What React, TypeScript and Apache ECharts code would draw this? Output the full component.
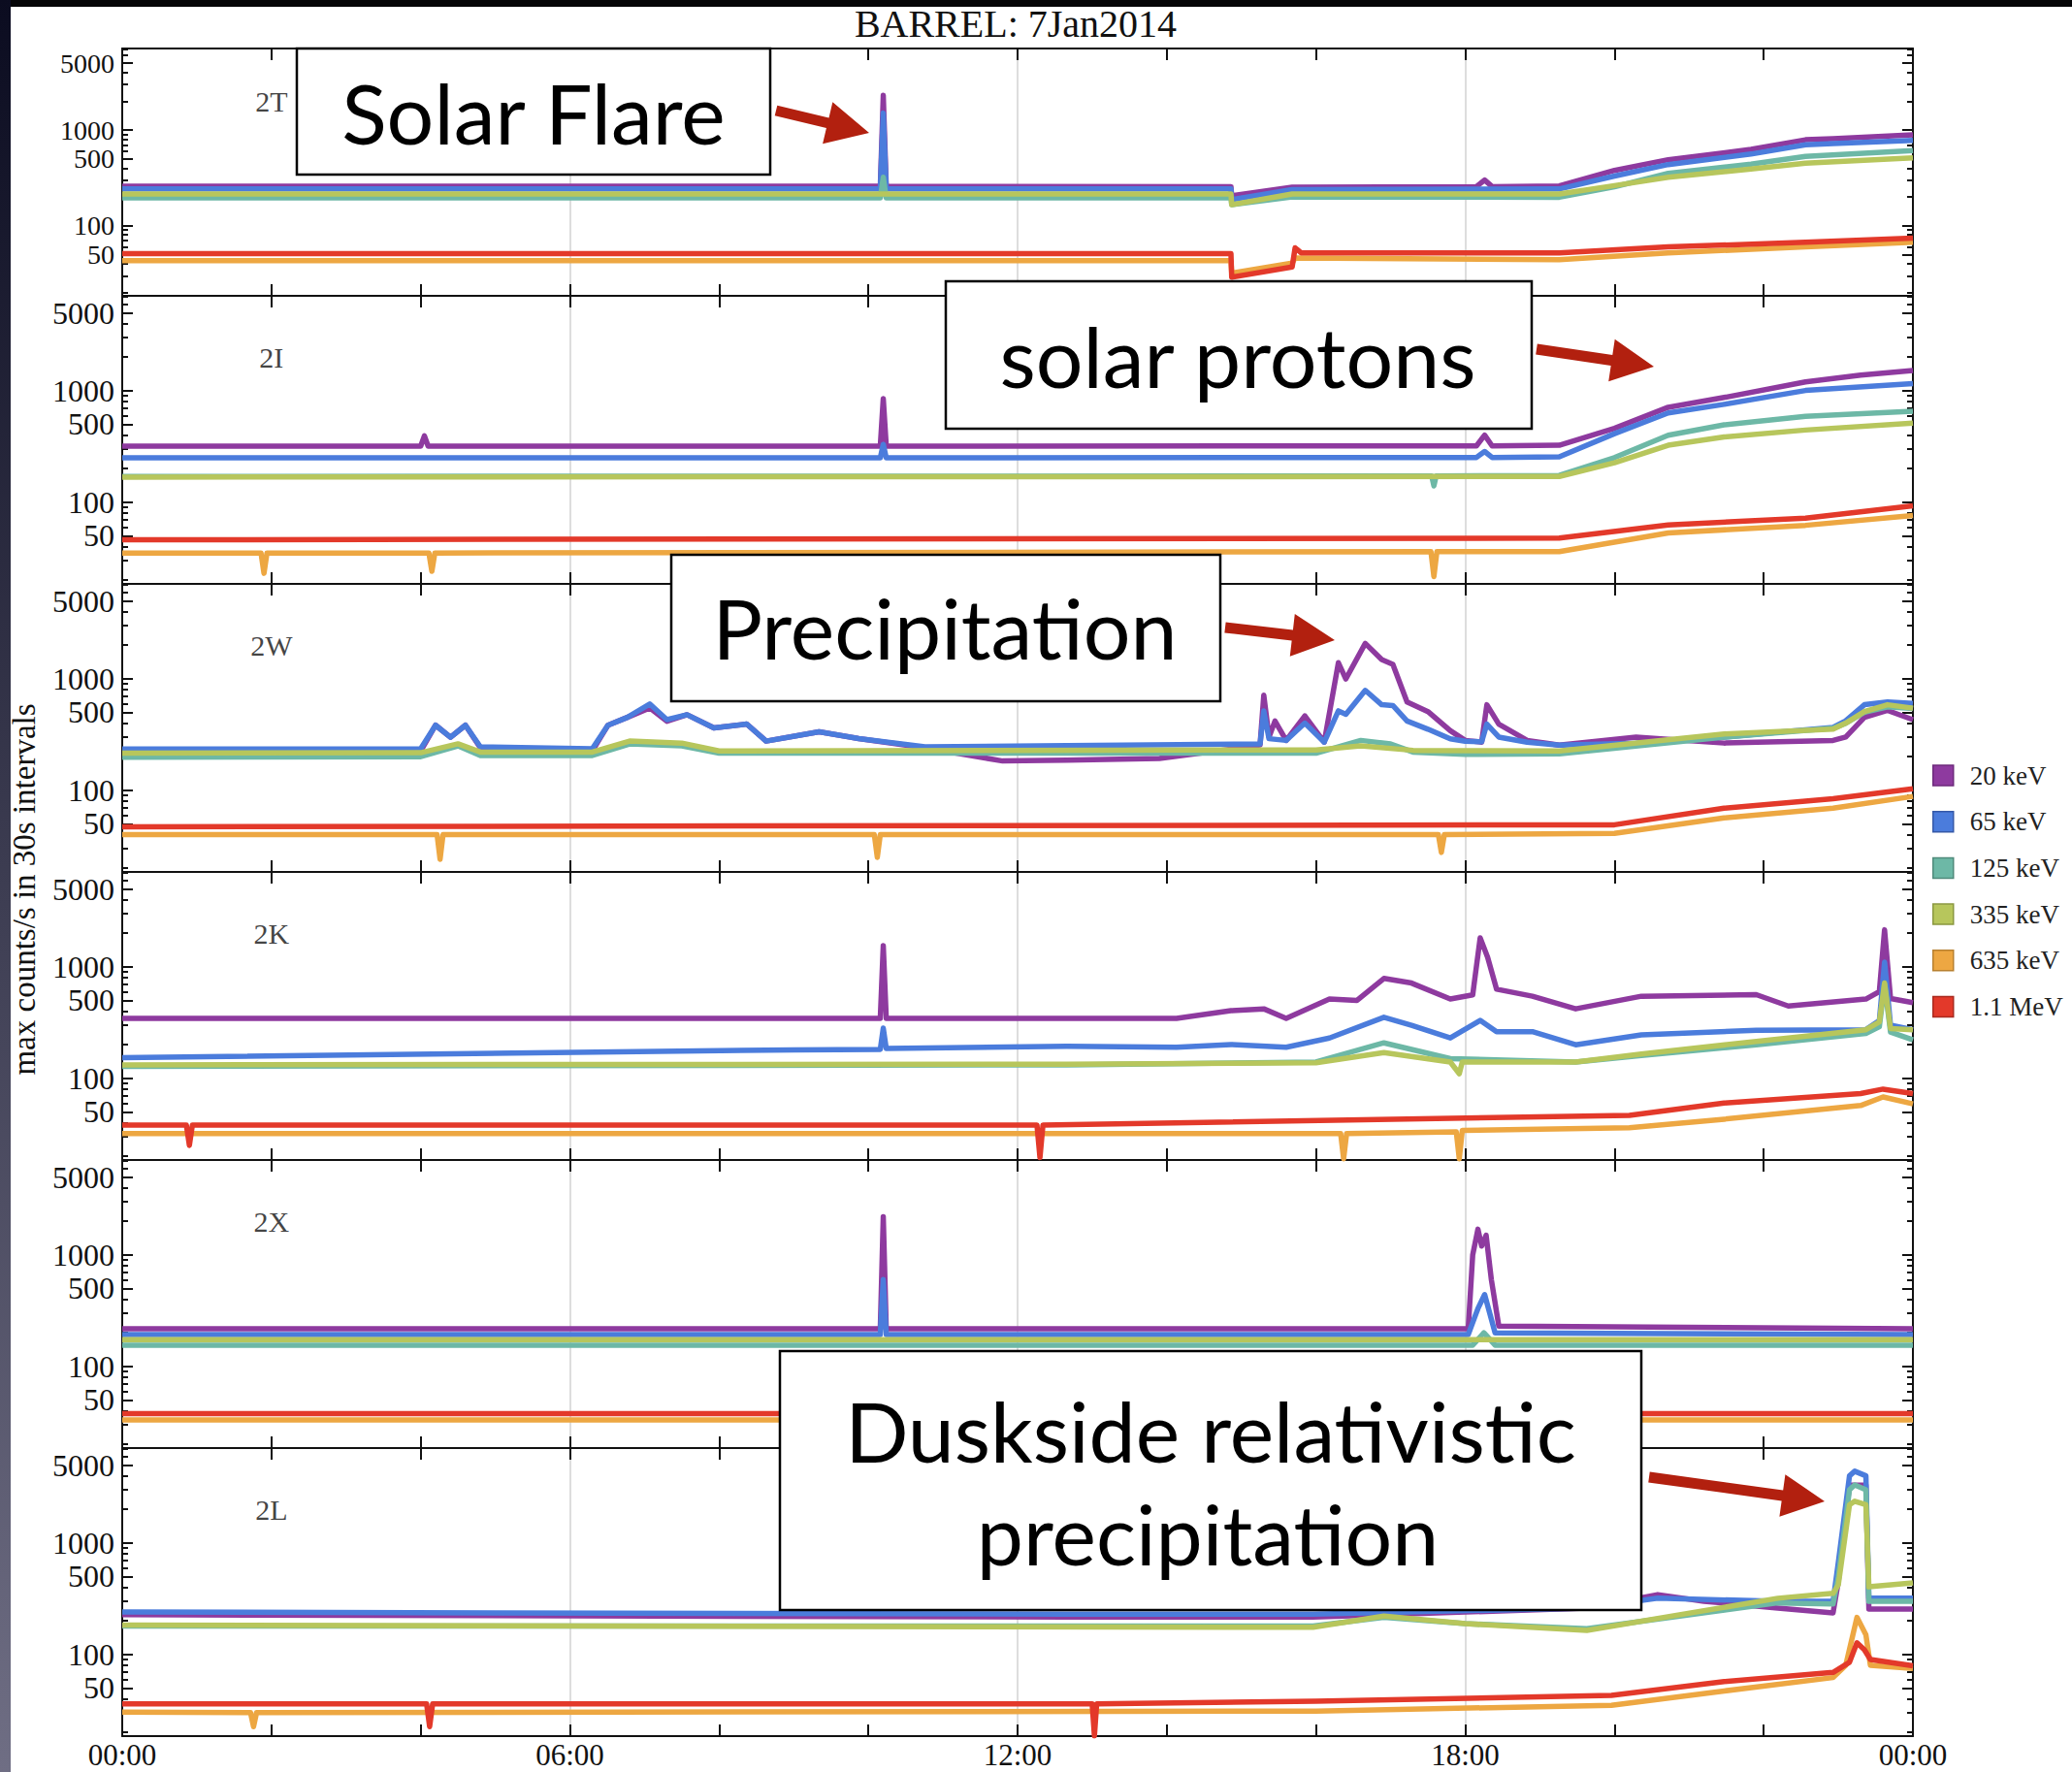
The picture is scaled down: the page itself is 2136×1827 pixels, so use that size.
import { useEffect, useRef } from "react";
import * as echarts from "echarts";

type Pt = [number, number];

// Time axis (hours since 00:00 UT) and its labelled hours
const HOUR_TICKS = [0, 6, 12, 18, 24];
const HOUR_LABELS = ["00:00", "06:00", "12:00", "18:00", "00:00"];

// Log count-rate axis: labelled ticks and the unlabelled minor ticks
const COUNT_LABELS = [50, 100, 500, 1000, 5000];
const COUNT_MINOR = [20, 30, 40, 60, 70, 80, 90, 200, 300, 400, 600, 700, 800, 900, 2000, 3000, 4000, 6000, 7000];
const COUNT_RANGE = [18.5, 7100];
// blank slot below the first label keeps the axis from dropping 50 or 100
const COUNT_LABEL_SLOTS = [19, ...COUNT_LABELS];

const CHANNELS = ["20 keV", "65 keV", "125 keV", "335 keV", "635 keV", "1.1 MeV"];
const CHANNEL_COLORS = ["#8e3a9f", "#4b7cdc", "#6db8a6", "#b7c65c", "#eda742", "#e3392a"];
const CHANNEL_EDGES = ["#6d2a7c", "#3559a8", "#4f8a7b", "#8a9840", "#b8802f", "#a92a1f"];

const PAYLOADS = ["2T", "2I", "2W", "2K", "2X", "2L"];
const PAYLOAD_LABEL_AT: Pt = [2, 2000];

// ---- 2T ----
const T_20: Pt[] = [[0, 258], [10.16, 258], [10.2, 2300], [10.24, 258], [14.86, 256], [14.87, 205], [15.68, 252], [18.15, 256], [18.26, 300], [18.36, 256], [19.26, 260], [20.0, 378], [20.72, 489], [21.83, 626], [22.56, 790], [22.93, 810], [24, 890]];
const T_65: Pt[] = [[0, 242], [10.16, 242], [10.2, 1500], [10.24, 242], [14.86, 242], [14.87, 187], [15.68, 238], [19.26, 242], [20.0, 330], [20.72, 435], [21.83, 560], [22.56, 700], [22.93, 720], [24, 780]];
const T_125: Pt[] = [[0, 195], [10.16, 195], [10.2, 320], [10.24, 195], [14.86, 195], [14.87, 166], [15.68, 200], [19.26, 198], [20.0, 255], [20.72, 352], [21.83, 440], [22.56, 530], [24, 610]];
const T_335: Pt[] = [[0, 214], [14.86, 214], [14.87, 166], [15.68, 214], [19.26, 214], [20.0, 262], [20.72, 320], [21.83, 390], [22.56, 450], [24, 510]];
const T_635: Pt[] = [[0, 43], [14.86, 43], [14.87, 32], [15.68, 40.6], [15.72, 46], [19.26, 44], [20.72, 52], [22.56, 60], [24, 67]];
const T_1100: Pt[] = [[0, 51], [14.86, 51], [14.87, 29], [15.68, 37], [15.72, 58.7], [15.8, 52], [19.26, 52], [20.72, 60], [22.56, 67], [24, 74]];

// ---- 2I ----
const I_20: Pt[] = [[0, 318], [4.0, 318], [4.05, 393], [4.1, 318], [10.16, 318], [10.2, 850], [10.24, 318], [18.15, 320], [18.26, 400], [18.36, 320], [19.26, 324], [20.0, 460], [20.72, 710], [21.47, 870], [22.56, 1200], [23.3, 1380], [24, 1520]];
const I_65: Pt[] = [[0, 250], [10.16, 250], [10.2, 330], [10.24, 250], [18.15, 252], [18.26, 285], [18.36, 252], [19.26, 255], [20.0, 412], [20.72, 632], [21.47, 755], [22.56, 1005], [24, 1160]];
const I_125: Pt[] = [[0, 170], [17.55, 172], [17.58, 140], [17.61, 172], [19.26, 174], [20.0, 251], [20.72, 399], [21.47, 494], [22.56, 590], [24, 655]];
const I_335: Pt[] = [[0, 168], [19.26, 170], [20.0, 226], [20.72, 324], [21.47, 385], [22.56, 444], [24, 511]];
const I_635: Pt[] = [[0, 35], [1.86, 35], [1.9, 23], [1.94, 35], [4.11, 35], [4.15, 24], [4.19, 35], [17.54, 36], [17.58, 21.5], [17.62, 36], [19.26, 36], [20.72, 53], [22.56, 62], [24, 76]];
const I_1100: Pt[] = [[0, 46], [19.26, 47.6], [20.72, 62.6], [22.56, 72], [24, 93]];

// ---- 2W ----
const W_20: Pt[] = [[0, 221], [4.0, 225], [4.2, 383], [4.4, 299], [4.6, 383], [4.8, 240], [6.3, 225], [6.51, 383], [6.77, 451], [7.07, 548], [7.3, 416], [7.57, 476], [7.93, 362], [8.37, 393], [8.63, 276], [9.34, 334], [9.87, 291], [10.76, 240], [11.8, 183], [12.66, 186], [13.9, 193], [15.0, 240], [15.25, 255], [15.3, 713], [15.37, 300], [15.45, 418], [15.6, 280], [15.85, 465], [16.11, 270], [16.3, 1392], [16.4, 996], [16.66, 2077], [16.88, 1487], [17.03, 1346], [17.22, 620], [17.5, 508], [17.8, 342], [18.0, 280], [18.22, 270], [18.29, 585], [18.45, 392], [18.83, 280], [19.26, 254], [20.29, 300], [21.47, 265], [22.93, 280], [23.1, 300], [23.35, 450], [23.66, 520], [24, 430]];
const W_65: Pt[] = [[0, 234], [4.0, 236], [4.2, 383], [4.4, 299], [4.6, 383], [4.8, 245], [6.3, 236], [6.51, 383], [6.77, 451], [7.07, 594], [7.3, 430], [7.57, 476], [7.93, 362], [8.37, 393], [8.63, 276], [9.34, 334], [9.87, 291], [10.76, 245], [12.66, 252], [15.25, 260], [15.3, 515], [15.37, 290], [15.6, 280], [15.85, 400], [16.11, 270], [16.3, 515], [16.4, 480], [16.66, 787], [16.88, 585], [17.03, 575], [17.22, 418], [17.5, 353], [17.8, 289], [18.0, 275], [18.22, 272], [18.29, 392], [18.45, 300], [18.83, 270], [19.26, 254], [20.29, 265], [21.47, 300], [22.93, 367], [23.1, 420], [23.35, 585], [23.66, 620], [24, 600]];
const W_125: Pt[] = [[0, 198], [4.0, 200], [4.5, 250], [4.8, 205], [6.3, 205], [6.8, 260], [7.5, 250], [8.0, 215], [16.0, 215], [16.6, 280], [17.0, 260], [17.3, 220], [18.0, 210], [19.26, 212], [21.47, 300], [22.93, 360], [23.1, 400], [23.35, 500], [23.66, 560], [24, 540]];
const W_335: Pt[] = [[0, 215], [4.0, 217], [4.5, 261], [4.8, 220], [6.3, 220], [6.8, 276], [7.5, 265], [8.0, 225], [16.0, 230], [16.6, 250], [17.3, 228], [19.26, 225], [21.47, 320], [22.93, 353], [23.1, 400], [23.35, 508], [23.66, 585], [24, 545]];
const W_635: Pt[] = [[0, 40], [4.22, 40], [4.26, 24], [4.3, 40], [10.08, 40], [10.12, 25], [10.16, 40], [17.64, 40], [17.68, 27.7], [17.72, 40], [20.0, 41], [21.47, 56.5], [22.93, 69], [24, 88]];
const W_1100: Pt[] = [[0, 47], [20.0, 49], [21.47, 69], [22.93, 84], [24, 103]];

// ---- 2K ----
const K_20: Pt[] = [[0, 345], [10.16, 345], [10.2, 1550], [10.24, 345], [14.13, 345], [14.86, 404], [15.3, 420], [15.6, 345], [16.18, 514], [16.55, 500], [16.91, 787], [17.28, 715], [17.8, 514], [18.1, 560], [18.2, 1817], [18.3, 1217], [18.42, 630], [18.9, 545], [19.48, 420], [20.36, 545], [21.9, 563], [22.33, 445], [23.37, 514], [23.55, 600], [23.62, 2150], [23.7, 520], [24, 478]];
const K_65: Pt[] = [[0, 153], [9.0, 180], [10.16, 182], [10.2, 282], [10.24, 185], [12.66, 194], [14.13, 190], [14.86, 201], [15.6, 190], [16.18, 230], [16.91, 353], [17.28, 299], [17.8, 230], [18.2, 331], [18.42, 262], [18.9, 262], [19.48, 200], [20.36, 245], [21.9, 270], [23.37, 273], [23.55, 330], [23.62, 1100], [23.7, 300], [24, 273]];
const K_125: Pt[] = [[0, 128], [12.66, 132], [16.0, 140], [16.91, 208], [17.8, 150], [19.48, 140], [20.36, 160], [21.9, 200], [23.37, 252], [23.55, 290], [23.62, 700], [23.7, 260], [24, 221]];
const K_335: Pt[] = [[0, 132], [12.66, 134], [16.0, 138], [16.91, 170], [17.8, 140], [17.92, 110], [17.96, 140], [19.48, 140], [20.36, 165], [21.9, 214], [23.37, 273], [23.55, 320], [23.62, 715], [23.7, 280], [24, 273]];
const K_635: Pt[] = [[0, 32], [16.33, 32], [16.37, 19], [16.41, 32], [17.88, 33], [17.92, 19], [17.96, 34], [20.2, 36], [21.47, 43], [23.3, 57], [23.6, 68], [24, 59]];
const K_1100: Pt[] = [[0, 38], [0.86, 38], [0.9, 25], [0.94, 38], [12.26, 38], [12.3, 19.5], [12.34, 38], [20.2, 46.5], [21.47, 60], [23.3, 73], [23.6, 80], [24, 73]];

// ---- 2X ----
const X_20: Pt[] = [[0, 217], [10.16, 217], [10.2, 2200], [10.24, 217], [18.04, 217], [18.1, 1000], [18.17, 1700], [18.22, 1200], [18.28, 1500], [18.35, 600], [18.45, 230], [24, 217]];
const X_65: Pt[] = [[0, 193], [10.16, 193], [10.2, 600], [10.24, 193], [18.04, 193], [18.17, 330], [18.26, 440], [18.4, 200], [24, 193]];
const X_125: Pt[] = [[0, 155], [18.1, 155], [18.25, 200], [18.4, 155], [24, 155]];
const X_335: Pt[] = [[0, 174], [24, 174]];
const X_635: Pt[] = [[0, 33], [24, 33]];
const X_1100: Pt[] = [[0, 37.6], [24, 37.6]];

// ---- 2L ----
const L_20: Pt[] = [[0, 227], [12.66, 216], [15.96, 216], [19.63, 261], [20.58, 344], [21.2, 300], [22.19, 261], [22.93, 236], [23.0, 450], [23.15, 3300], [23.37, 3300], [23.41, 255], [24, 255]];
const L_65: Pt[] = [[0, 240], [12.66, 230], [15.96, 230], [19.63, 261], [20.58, 320], [22.19, 299], [22.93, 299], [23.0, 667], [23.15, 4000], [23.22, 4400], [23.37, 4000], [23.41, 319], [24, 319]];
const L_125: Pt[] = [[0, 180], [15.96, 180], [16.91, 215], [18.0, 189], [19.63, 170], [22.19, 290], [22.93, 283], [23.0, 500], [23.15, 3000], [23.22, 3315], [23.37, 3000], [23.41, 299], [24, 299]];
const L_335: Pt[] = [[0, 183], [15.96, 175], [16.91, 221], [18.0, 189], [19.63, 164], [22.19, 319], [22.93, 353], [23.0, 420], [23.15, 2200], [23.22, 2370], [23.37, 2200], [23.41, 404], [24, 438]];
const L_635: Pt[] = [[0, 30.4], [1.72, 30], [1.76, 22.5], [1.8, 30], [16.0, 31], [19.96, 35], [21.47, 47], [22.93, 62], [23.1, 80], [23.25, 215], [23.37, 150], [23.43, 80], [24, 75]];
const L_1100: Pt[] = [[0, 36], [4.08, 36], [4.12, 22.5], [4.16, 36], [13.0, 36], [13.03, 18.6], [13.06, 36], [16.0, 38], [19.96, 43], [21.47, 57], [22.93, 69], [23.15, 85], [23.25, 127], [23.35, 110], [23.43, 90], [24, 79]];

const PANEL_CURVES: Pt[][][] = [
  [T_20, T_65, T_125, T_335, T_635, T_1100],
  [I_20, I_65, I_125, I_335, I_635, I_1100],
  [W_20, W_65, W_125, W_335, W_635, W_1100],
  [K_20, K_65, K_125, K_335, K_635, K_1100],
  [X_20, X_65, X_125, X_335, X_635, X_1100],
  [L_20, L_65, L_125, L_335, L_635, L_1100],
];

// Page layout
const PAGE_W = 2136;
const PAGE_H = 1827;
const PLOT_LEFT = 126;
const PLOT_WIDTH = 1846;
const PANEL_TOPS = [50, 305, 602, 899, 1196, 1493];
const PANEL_HEIGHTS = [255, 297, 297, 297, 297, 297];
// the first panel is shorter, so its tick labels are set a little smaller
const TICK_FONT = [28, 32, 32, 32, 32, 32];

const SERIF = "'Liberation Serif', 'Times New Roman', serif";
const SANS = "Lato, 'Open Sans', sans-serif";
const INK = "#111";
const ARROW_RED = "#b2200f";

function arrow(x1: number, y1: number, x2: number, y2: number) {
  const dx = x2 - x1;
  const dy = y2 - y1;
  const len = Math.hypot(dx, dy);
  const ux = dx / len;
  const uy = dy / len;
  const nx = -uy;
  const ny = ux;
  const headLen = 44;
  const headHalf = 22;
  const shaft = 5.5;
  const bx = x2 - ux * headLen;
  const by = y2 - uy * headLen;
  return {
    type: "polygon",
    z: 60,
    shape: {
      points: [
        [x1 + nx * shaft, y1 + ny * shaft],
        [bx + nx * shaft, by + ny * shaft],
        [bx + nx * headHalf, by + ny * headHalf],
        [x2, y2],
        [bx - nx * headHalf, by - ny * headHalf],
        [bx - nx * shaft, by - ny * shaft],
        [x1 - nx * shaft, y1 - ny * shaft],
      ],
    },
    style: { fill: ARROW_RED },
  };
}

function calloutBox(x: number, y: number, w: number, h: number) {
  return {
    type: "rect",
    z: 50,
    shape: { x, y, width: w, height: h },
    style: { fill: "#fff", stroke: "#000", lineWidth: 2.5 },
  };
}

function calloutText(text: string, x: number, y: number) {
  return {
    type: "text",
    z: 55,
    style: {
      text,
      x,
      y,
      fontSize: 86,
      fontFamily: SANS,
      fill: "#000",
      align: "center",
      verticalAlign: "middle",
      textAlign: "center",
      textVerticalAlign: "middle",
    },
  };
}

function buildOption() {
  const grid: any[] = [];
  const xAxis: any[] = [];
  const yAxis: any[] = [];
  const series: any[] = [];
  const frameLine = { color: INK, width: 2 };

  PANEL_CURVES.forEach((curves, i) => {
    const isBottom = i === PANEL_CURVES.length - 1;
    grid.push({ left: PLOT_LEFT, width: PLOT_WIDTH, top: PANEL_TOPS[i], height: PANEL_HEIGHTS[i], show: false });

    const xBase = { gridIndex: i, type: "value", min: 0, max: 24 };
    // bottom frame with 2-hour ticks (labels only on the last panel)
    xAxis.push({
      ...xBase,
      position: "bottom",
      interval: 2,
      axisLine: { show: true, onZero: false, lineStyle: frameLine },
      axisTick: { show: true, inside: true, length: 12, lineStyle: frameLine },
      axisLabel: {
        show: isBottom,
        showMinLabel: true,
        showMaxLabel: true,
        formatter: (v: number) => {
          const k = HOUR_TICKS.indexOf(v);
          return k >= 0 ? HOUR_LABELS[k] : "";
        },
        fontFamily: SERIF,
        fontSize: 31,
        lineHeight: 26,
        color: INK,
        margin: 6,
      },
      splitLine: { show: false },
    });
    // top frame
    xAxis.push({
      ...xBase,
      position: "top",
      interval: 2,
      axisLine: { show: true, onZero: false, lineStyle: frameLine },
      axisTick: { show: true, inside: true, length: 12, lineStyle: frameLine },
      axisLabel: { show: false },
      splitLine: { show: false },
    });
    // 6-hour guide lines
    xAxis.push({
      ...xBase,
      position: "bottom",
      interval: 6,
      axisLine: { show: false },
      axisTick: { show: false },
      axisLabel: { show: false },
      splitLine: { show: true, lineStyle: { color: "#d2d2d2", width: 1.5 } },
    });

    const yBase = {
      gridIndex: i,
      type: "log",
      logBase: 10,
      min: COUNT_RANGE[0],
      max: COUNT_RANGE[1],
      splitLine: { show: false },
      minorTick: { show: false },
      minorSplitLine: { show: false },
    };
    const majorTick = { show: true, inside: true, length: 11, customValues: COUNT_LABELS, lineStyle: frameLine };
    const minorTick = { show: true, inside: true, length: 6, customValues: COUNT_MINOR, lineStyle: frameLine };
    yAxis.push({
      ...yBase,
      position: "left",
      axisLine: { show: true, onZero: false, lineStyle: frameLine },
      axisTick: majorTick,
      axisLabel: {
        show: true,
        customValues: COUNT_LABEL_SLOTS,
        showMinLabel: true,
        showMaxLabel: true,
        formatter: (v: number) => (COUNT_LABELS.indexOf(Math.round(v)) >= 0 ? String(Math.round(v)) : ""),
        fontFamily: SERIF,
        fontSize: TICK_FONT[i],
        lineHeight: 22,
        color: INK,
        margin: 8,
        hideOverlap: false,
      },
    });
    yAxis.push({ ...yBase, position: "left", axisLine: { show: false, onZero: false }, axisTick: minorTick, axisLabel: { show: false } });
    yAxis.push({ ...yBase, position: "right", axisLine: { show: true, onZero: false, lineStyle: frameLine }, axisTick: majorTick, axisLabel: { show: false } });
    yAxis.push({ ...yBase, position: "right", axisLine: { show: false, onZero: false }, axisTick: minorTick, axisLabel: { show: false } });

    curves.forEach((data, c) => {
      series.push({
        type: "line",
        name: CHANNELS[c],
        xAxisIndex: 3 * i,
        yAxisIndex: 4 * i,
        data,
        symbol: "none",
        showSymbol: false,
        silent: true,
        z: 2 + c,
        lineStyle: { color: CHANNEL_COLORS[c], width: 5.5, join: "round" },
        itemStyle: { color: CHANNEL_COLORS[c] },
        emphasis: { disabled: true },
      });
    });

    series.push({
      type: "scatter",
      name: PAYLOADS[i],
      xAxisIndex: 3 * i,
      yAxisIndex: 4 * i,
      data: [PAYLOAD_LABEL_AT],
      symbolSize: 0,
      silent: true,
      z: 20,
      label: {
        show: true,
        position: "inside",
        formatter: PAYLOADS[i],
        fontFamily: SERIF,
        fontSize: 30,
        color: INK,
      },
    });
  });

  const graphic: any[] = [
    // slide edges
    { type: "rect", z: 0, shape: { x: 0, y: 0, width: PAGE_W, height: 7 }, style: { fill: "#050507" } },
    {
      type: "rect",
      z: 0,
      shape: { x: 0, y: 0, width: 11, height: PAGE_H },
      style: {
        fill: new echarts.graphic.LinearGradient(0, 0, 0, 1, [
          { offset: 0, color: "#0b0c20" },
          { offset: 1, color: "#6f6e84" },
        ]),
      },
    },
    {
      type: "text",
      z: 10,
      style: {
        text: "BARREL: 7Jan2014",
        x: 1047,
        y: 24,
        fontSize: 40,
        fontFamily: SERIF,
        fill: INK,
        align: "center",
        verticalAlign: "middle",
        textAlign: "center",
        textVerticalAlign: "middle",
      },
    },
    {
      type: "text",
      z: 10,
      x: 25,
      y: 917,
      rotation: Math.PI / 2,
      style: {
        text: "max counts/s in 30s intervals",
        x: 0,
        y: 0,
        fontSize: 33,
        fontFamily: SERIF,
        fill: INK,
        align: "center",
        verticalAlign: "middle",
        textAlign: "center",
        textVerticalAlign: "middle",
      },
    },
    // callouts
    calloutBox(306, 50, 488, 130),
    calloutText("Solar Flare", 550, 115),
    arrow(800, 114, 896, 137),
    calloutBox(975, 290, 604, 152),
    calloutText("solar protons", 1276, 366),
    arrow(1584, 360, 1705, 378),
    calloutBox(692, 572, 566, 151),
    calloutText("Precipitation", 974, 646),
    arrow(1263, 647, 1376, 660),
    calloutBox(804, 1393, 888, 267),
    calloutText("Duskside relativistic", 1248, 1474),
    calloutText("precipitation", 1245, 1580),
    arrow(1700, 1523, 1881, 1548),
  ];

  return {
    animation: false,
    backgroundColor: "#fff",
    grid,
    xAxis,
    yAxis,
    series,
    graphic,
    legend: {
      orient: "vertical",
      left: 1992,
      top: 786,
      padding: 0,
      itemWidth: 21,
      itemHeight: 21,
      itemGap: 20.7,
      icon: "rect",
      selectedMode: false,
      textStyle: { fontFamily: SERIF, fontSize: 27, color: "#222", lineHeight: 21, padding: [0, 0, 0, 12] },
      data: CHANNELS.map((name, c) => ({
        name,
        itemStyle: { color: CHANNEL_COLORS[c], borderColor: CHANNEL_EDGES[c], borderWidth: 1.5 },
      })),
    },
  };
}

export default function App() {
  const ref = useRef<HTMLDivElement>(null);
  useEffect(() => {
    if (!ref.current) return;
    const chart = echarts.init(ref.current, null, { renderer: "svg" });
    chart.setOption(buildOption() as any);
    return () => chart.dispose();
  }, []);
  return (
    <div
      ref={ref}
      style={{ position: "fixed", left: 0, top: 0, width: PAGE_W, height: PAGE_H, background: "#fff" }}
    />
  );
}
